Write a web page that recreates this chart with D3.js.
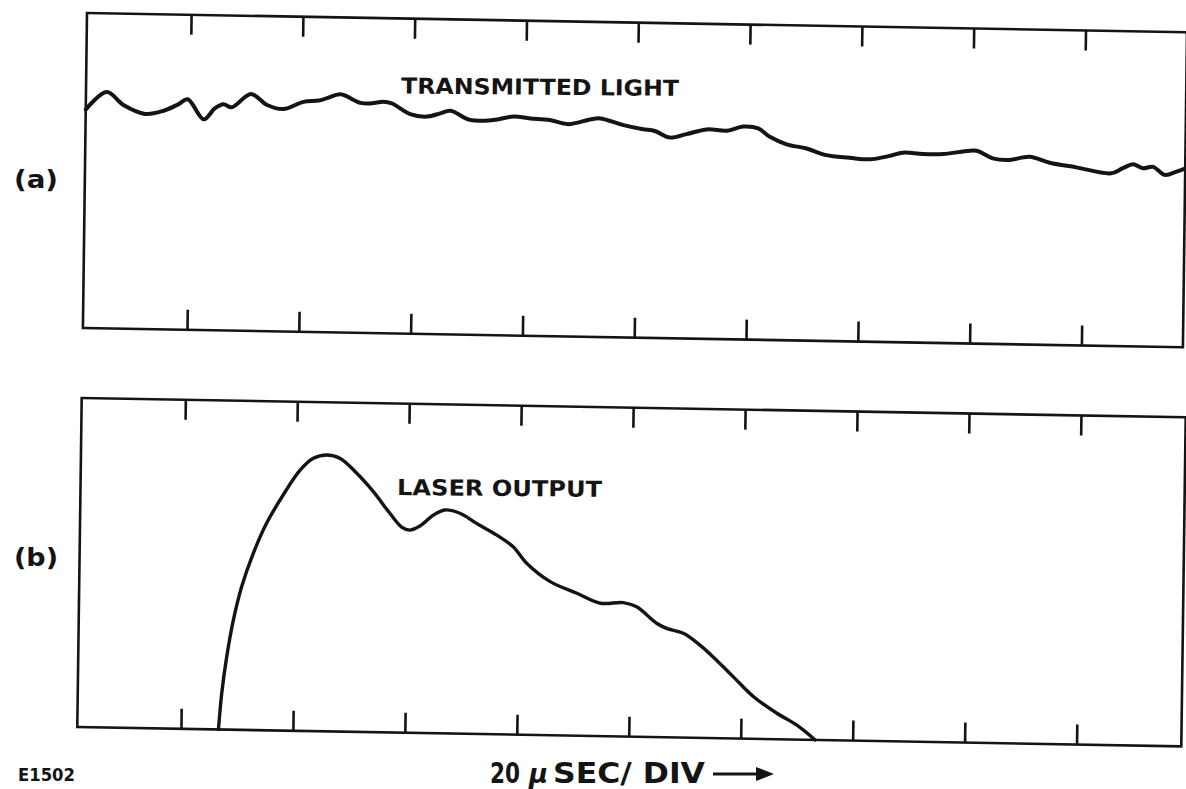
<!DOCTYPE html>
<html>
<head>
<meta charset="utf-8">
<script src="https://cdn.jsdelivr.net/npm/d3@7"></script>
<style>
  html, body { margin: 0; padding: 0; background: #fff; }
  svg { display: block; }
</style>
</head>
<body>
<svg id="chart" width="1186" height="789"></svg>
<script>
// ---------- DATA (time in microseconds, 20 µs per division; amplitude in % of panel height) ----------
const tickTimes = [20, 40, 60, 80, 100, 120, 140, 160, 180];

const transTime = [1.4, 5.1, 8.1, 12.0, 15.3, 17.9, 19.6, 22.5, 24.5, 26.0,
  27.5, 30.9, 33.8, 36.7, 40.3, 43.0, 44.5, 46.9, 50.5, 52.5,
  54.6, 56.1, 59.4, 62.4, 64.8, 66.6, 70.1, 74.3, 77.9, 80.9,
  84.4, 87.7, 91.6, 93.4, 97.6, 101.1, 103.2, 105.9, 108.9, 112.5,
  116.1, 119.0, 121.7, 123.8, 126.8, 130.4, 133.9, 138.1, 141.7, 145.3,
  147.6, 151.2, 154.8, 158.4, 160.8, 163.7, 166.7, 170.3, 173.9, 178.7,
  184.9, 187.0, 188.8, 190.6, 192.4, 194.5, 196.6, 198.2];
const transValue = [69.4, 75.0, 71.0, 68.3, 69.4, 71.5, 73.2, 66.9, 70.5, 71.8,
  70.9, 75.2, 71.8, 70.6, 73.0, 73.5, 74.3, 75.6, 73.0, 72.9,
  73.5, 73.0, 69.7, 69.0, 70.1, 71.0, 68.2, 68.3, 69.5, 69.0,
  68.6, 67.4, 69.0, 69.4, 67.4, 66.2, 65.7, 63.7, 64.9, 66.5,
  66.2, 67.6, 67.1, 64.5, 62.2, 61.0, 59.0, 58.3, 57.9, 59.1,
  60.2, 59.9, 60.0, 60.9, 61.2, 58.9, 58.5, 59.6, 57.8, 56.5,
  54.8, 56.5, 57.8, 56.6, 57.1, 54.6, 55.7, 56.8];

const laserTime = [26.7, 27.2, 28.0, 29.1, 30.5, 32.5, 34.8, 37.7, 40.7, 43.0,
  45.4, 47.8, 50.8, 53.8, 56.8, 59.0, 60.4, 62.2, 64.6, 66.6,
  69.3, 72.3, 75.9, 78.9, 81.4, 85.6, 90.4, 94.6, 98.7, 101.1,
  104.7, 106.5, 109.5, 112.5, 115.5, 118.5, 122.2, 126.4, 130.0, 133.3];
const laserValue = [0, 11.0, 22.1, 33.3, 43.5, 53.7, 62.9, 71.6, 79.3, 82.9,
  84.0, 83.0, 78.6, 73.1, 66.6, 62.4, 61.6, 62.9, 66.3, 67.9,
  67.0, 64.0, 60.6, 57.1, 52.1, 46.7, 43.3, 40.4, 40.7, 39.5,
  34.6, 33.1, 31.7, 28.2, 23.7, 18.8, 12.8, 7.9, 4.4, 0];

const panelLabels = ["(a)", "(b)"];
const traceLabels = ["TRANSMITTED LIGHT", "LASER OUTPUT"];
const sweepNumber = "20";
const sweepUnit = "μ";
const sweepText = "SEC/ DIV";
const figureId = "E1502";

// ---------- LAYOUT ----------
const INK = "#141414";
const FONT = "'DejaVu Sans', 'Liberation Sans', Arial, sans-serif";
const svg = d3.select("#chart");
svg.append("rect").attr("width", 1186).attr("height", 789).attr("fill", "#fff");

const panels = [
  { ox: 87, oy: 13, w: 1100, h: 315, x0: -7.7, div: 111.8, shear: -0.013, tilt: 0.0175,
    time: transTime, value: transValue, sw: 4.0 },
  { ox: 81.7, oy: 398, w: 1104, h: 329, x0: -8.3, div: 111.95, shear: -0.0134, tilt: 0.0175,
    time: laserTime, value: laserValue, sw: 3.4 }
];

panels.forEach((p) => {
  const g = svg.append("g")
    .attr("transform", `matrix(1,${p.tilt},${p.shear},1,${p.ox},${p.oy})`);

  const x = d3.scaleLinear().domain([0, 200]).range([p.x0, p.x0 + 10 * p.div]);
  const y = d3.scaleLinear().domain([0, 100]).range([p.h, 0]);

  // frame
  g.append("rect")
    .attr("x", 0).attr("y", 0).attr("width", p.w).attr("height", p.h)
    .attr("fill", "none").attr("stroke", INK).attr("stroke-width", 2.6);

  // ticks on top edge (pointing down) and bottom edge (pointing up)
  const top = g.append("g").call(d3.axisTop(x).tickValues(tickTimes).tickSize(-20).tickFormat(""));
  const bot = g.append("g").attr("transform", `translate(0,${p.h})`)
    .call(d3.axisBottom(x).tickValues(tickTimes).tickSize(-20).tickFormat(""));
  [top, bot].forEach(a => {
    a.select(".domain").remove();
    a.selectAll(".tick line").attr("stroke", INK).attr("stroke-width", 2.6);
  });

  // trace
  const pts = p.time.map((t, i) => ({ t, v: p.value[i] }));
  g.append("path")
    .datum(pts)
    .attr("fill", "none")
    .attr("stroke", INK)
    .attr("stroke-width", p.sw)
    .attr("stroke-linejoin", "round")
    .attr("stroke-linecap", "round")
    .attr("d", d3.line().x(d => x(d.t)).y(d => y(d.v)).curve(d3.curveCatmullRom.alpha(0.5)));
});

// ---------- TEXT ----------
svg.append("text").text(traceLabels[0])
  .attr("x", 401).attr("y", 93.5)
  .attr("transform", "rotate(0.5,401,93.5)")
  .attr("font-family", FONT).attr("font-weight", "bold").attr("font-size", 22)
  .attr("textLength", 278).attr("lengthAdjust", "spacingAndGlyphs")
  .attr("fill", INK);

svg.append("text").text(traceLabels[1])
  .attr("x", 397).attr("y", 495)
  .attr("transform", "rotate(0.5,397,495)")
  .attr("font-family", FONT).attr("font-weight", "bold").attr("font-size", 22)
  .attr("textLength", 205).attr("lengthAdjust", "spacingAndGlyphs")
  .attr("fill", INK);

const labelY = [188, 566];
panelLabels.forEach((s, i) => {
  svg.append("text").text(s)
    .attr("x", 14).attr("y", labelY[i])
    .attr("font-family", FONT).attr("font-weight", "bold").attr("font-size", 25)
    .attr("textLength", 44).attr("lengthAdjust", "spacingAndGlyphs")
    .attr("fill", INK);
});

svg.append("text").text(figureId)
  .attr("x", 18).attr("y", 781)
  .attr("font-family", FONT).attr("font-weight", "bold").attr("font-size", 18)
  .attr("textLength", 57).attr("lengthAdjust", "spacingAndGlyphs")
  .attr("fill", INK);

svg.append("text").text(sweepNumber)
  .attr("x", 490).attr("y", 783)
  .attr("font-family", FONT).attr("font-weight", "bold").attr("font-size", 29)
  .attr("textLength", 30).attr("lengthAdjust", "spacingAndGlyphs")
  .attr("fill", INK);
svg.append("text").text(sweepUnit)
  .attr("x", 529).attr("y", 783)
  .attr("font-family", FONT).attr("font-style", "italic").attr("font-weight", "bold").attr("font-size", 26)
  .attr("fill", INK);
svg.append("text").text(sweepText)
  .attr("x", 553).attr("y", 783)
  .attr("font-family", FONT).attr("font-weight", "bold").attr("font-size", 29)
  .attr("textLength", 152).attr("lengthAdjust", "spacingAndGlyphs")
  .attr("fill", INK);

// arrow
svg.append("line").attr("x1", 713).attr("y1", 774).attr("x2", 758).attr("y2", 774)
  .attr("stroke", INK).attr("stroke-width", 3);
svg.append("path").attr("d", "M756,767 L774,774 L756,781 Z").attr("fill", INK);
</script>
</body>
</html>
